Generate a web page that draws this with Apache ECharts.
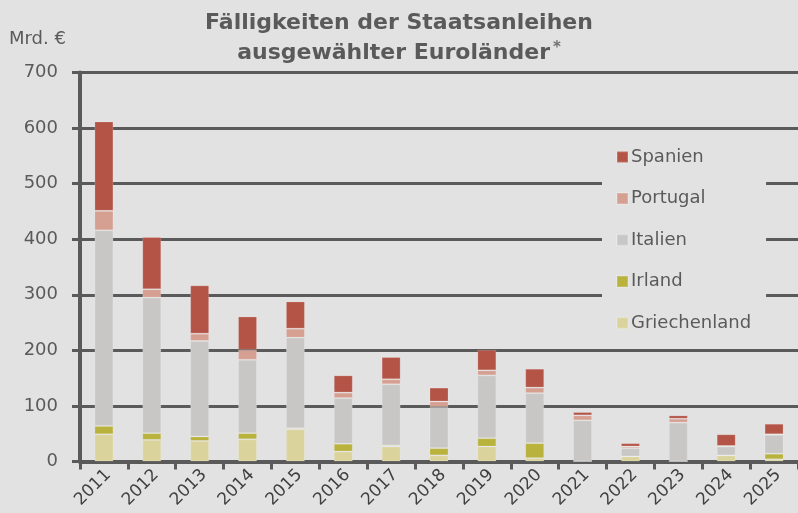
<!DOCTYPE html>
<html>
<head>
<meta charset="utf-8">
<script src="https://cdn.jsdelivr.net/npm/echarts@6/dist/echarts.min.js"></script>
<style>
  html, body { margin: 0; padding: 0; background: #e3e2e3; }
  #main { width: 798px; height: 513px; }
</style>
</head>
<body>
<div id="main"></div>
<script>
// Jahre der Fälligkeit
var years = ['2011', '2012', '2013', '2014', '2015', '2016', '2017', '2018', '2019', '2020', '2021', '2022', '2023', '2024', '2025'];
// Mrd. € je Land (von unten nach oben gestapelt)
var griechenland = [49, 39, 37, 40, 58, 18, 27, 11, 27, 6, 0, 9, 0, 11, 4];
var irland = [15, 12, 8, 11, 2, 14, 2, 13, 15, 27, 0, 0, 0, 0, 10];
var italien = [352, 244, 172, 132, 163, 82, 110, 74, 113, 90, 74, 15, 70, 16, 34];
var portugal = [35, 15, 13, 18, 16, 10, 9, 10, 9, 10, 9, 3, 7, 1, 1];
var spanien = [161, 94, 87, 60, 49, 31, 40, 25, 37, 34, 6, 6, 6, 21, 19];
var yTicks = [0, 100, 200, 300, 400, 500, 600, 700];

var grey = '#5a5a5a';
var font = 'DejaVu Sans';

function bar(name, data, color) {
  return {
    name: name,
    type: 'bar',
    stack: 'total',
    barWidth: 19,
    data: data,
    itemStyle: {
      color: color,
      borderColor: 'rgba(255,255,255,0.18)',
      borderWidth: 1
    }
  };
}

var chart = echarts.init(document.getElementById('main'), null, { renderer: 'canvas' });

var option = {
  backgroundColor: '#e3e2e3',
  animation: false,
  title: [{
    text: 'Fälligkeiten der Staatsanleihen',
    left: 'center',
    top: 12,
    padding: [0, 0, 0, 12],
    textStyle: { fontFamily: font, fontSize: 22, fontWeight: 'bold', color: grey }
  }, {
    text: '{b|ausgewählter Euroländer}{s|*}',
    left: 'center',
    top: 41,
    padding: [0, 0, 0, 12],
    textStyle: {
      rich: {
        b: { fontFamily: font, fontSize: 22, fontWeight: 'bold', color: grey },
        s: { fontFamily: font, fontSize: 15, color: '#707070', padding: [0, 0, 9, 3] }
      }
    }
  }, {
    text: 'Mrd. €',
    left: 9,
    top: 30,
    padding: 0,
    textStyle: { fontFamily: font, fontSize: 18, fontWeight: 'normal', color: grey }
  }],
  legend: {
    orient: 'vertical',
    left: 602,
    top: 138,
    z: 50,
    padding: [10, 15, 10, 14],
    backgroundColor: '#e3e2e3',
    data: ['Spanien', 'Portugal', 'Italien', 'Irland', 'Griechenland'],
    icon: 'rect',
    itemWidth: 11,
    itemHeight: 11,
    itemGap: 23.5,
    textStyle: { fontFamily: font, fontSize: 18, color: grey, lineHeight: 18, padding: [0, 0, 0, -2] }
  },
  grid: {
    left: 80,
    right: -7,
    top: 72.5,
    height: 389,
    containLabel: false
  },
  xAxis: {
    type: 'category',
    data: years,
    axisLine: { lineStyle: { color: grey, width: 4 } },
    axisTick: { show: true, length: 8, lineStyle: { color: grey, width: 3 } },
    axisLabel: { rotate: 45, fontFamily: font, fontSize: 17, color: '#404040', margin: 15, padding: [0, -6, 0, 0] }
  },
  yAxis: {
    type: 'value',
    min: yTicks[0],
    max: yTicks[yTicks.length - 1],
    interval: 100,
    axisLine: { show: true, lineStyle: { color: grey, width: 4 } },
    axisTick: { show: true, length: 8, lineStyle: { color: grey, width: 3 } },
    axisLabel: { fontFamily: font, fontSize: 18, color: grey, margin: 22 },
    splitLine: { lineStyle: { color: grey, width: 3 } }
  },
  series: [
    bar('Griechenland', griechenland, '#dad39b'),
    bar('Irland', irland, '#b9b23c'),
    bar('Italien', italien, '#c8c7c5'),
    bar('Portugal', portugal, '#d59f91'),
    bar('Spanien', spanien, '#b35446')
  ]
};

chart.setOption(option);
</script>
</body>
</html>
